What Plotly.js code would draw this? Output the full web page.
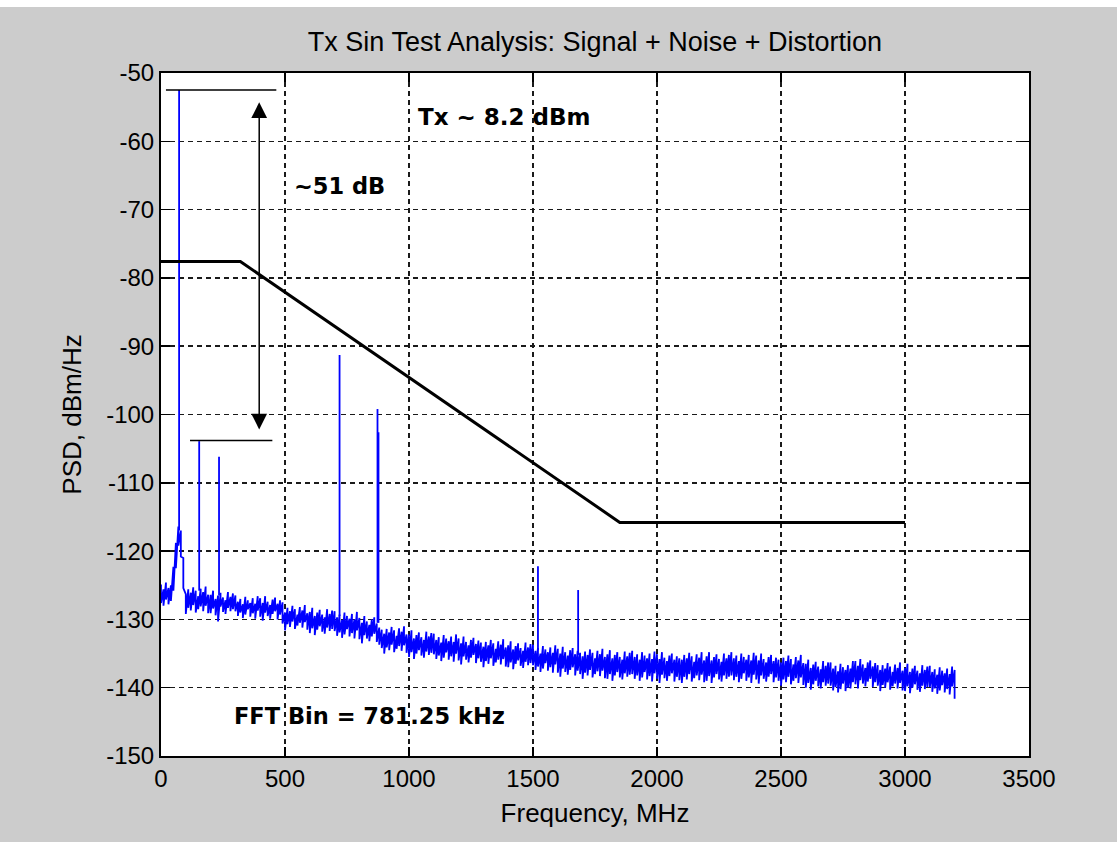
<!DOCTYPE html>
<html>
<head>
<meta charset="utf-8">
<script src="https://cdn.plot.ly/plotly-3.0.1.min.js"></script>
<style>
html, body { margin: 0; padding: 0; background: #ffffff; }
#psd { position: absolute; left: 0; top: 7px; width: 1117px; height: 835px; }
</style>
</head>
<body>
<div id="psd"></div>
<script>
// Noise floor envelope: highest and lowest PSD inside each 10 MHz bin (dBm/Hz)
const noiseStartMHz = 0;
const noiseStepMHz = 10;
const noiseMax = [
  -124.9,-125.6,-124.6,-125.4,-125.0,-122.3,-118.8,-116.4,-117.0,-121.0,
  -126.3,-125.6,-126.1,-125.3,-125.8,-126.6,-125.5,-126.0,-125.2,-126.4,
  -126.4,-125.8,-127.0,-126.5,-126.1,-126.8,-127.2,-126.0,-126.7,-126.2,
  -126.5,-127.4,-127.0,-127.8,-126.7,-127.2,-127.6,-126.9,-127.7,-126.6,
  -126.9,-127.6,-126.6,-127.4,-127.9,-127.1,-126.8,-127.7,-127.2,-127.5,
  -129.0,-128.3,-128.8,-128.0,-128.5,-129.3,-128.2,-128.7,-127.9,-129.1,
  -128.9,-128.3,-129.5,-129.0,-128.6,-129.3,-129.7,-128.5,-129.2,-128.7,
  -128.8,-129.7,-129.3,-130.1,-129.0,-129.5,-129.9,-129.2,-130.0,-128.9,
  -129.8,-130.5,-129.5,-130.3,-130.8,-130.0,-129.7,-130.6,-131.2,-131.5,
  -132.1,-131.4,-131.9,-131.1,-131.6,-132.4,-131.3,-131.8,-131.0,-132.2,
  -132.2,-131.6,-132.8,-132.3,-131.9,-132.6,-133.0,-131.8,-132.5,-132.0,
  -132.1,-133.0,-132.6,-133.4,-132.3,-132.8,-133.2,-132.5,-133.3,-132.2,
  -132.8,-133.5,-132.5,-133.3,-133.8,-133.0,-132.7,-133.6,-133.1,-133.4,
  -134.0,-133.3,-133.8,-133.0,-133.5,-134.3,-133.2,-133.7,-132.9,-134.1,
  -133.8,-133.2,-134.4,-133.9,-133.5,-134.2,-134.6,-133.4,-134.1,-133.6,
  -133.7,-134.6,-134.2,-135.0,-133.9,-134.4,-134.8,-134.1,-134.9,-133.8,
  -134.3,-135.0,-134.0,-134.8,-135.3,-134.5,-134.2,-135.1,-134.6,-134.9,
  -135.4,-134.7,-135.2,-134.4,-134.9,-135.7,-134.6,-135.1,-134.3,-135.5,
  -135.1,-134.5,-135.7,-135.2,-134.8,-135.5,-135.9,-134.7,-135.4,-134.9,
  -134.6,-135.5,-135.1,-135.9,-134.8,-135.3,-135.7,-135.0,-135.8,-134.7,
  -135.1,-135.8,-134.8,-135.6,-136.1,-135.3,-135.0,-135.9,-135.4,-135.7,
  -135.9,-135.2,-135.7,-134.9,-135.4,-136.2,-135.1,-135.6,-134.8,-136.0,
  -135.4,-134.8,-136.0,-135.5,-135.1,-135.8,-136.2,-135.0,-135.7,-135.2,
  -134.8,-135.7,-135.3,-136.1,-135.0,-135.5,-135.9,-135.2,-136.0,-134.9,
  -135.3,-136.0,-135.0,-135.8,-136.3,-135.5,-135.2,-136.1,-135.6,-135.9,
  -136.3,-135.6,-136.1,-135.3,-135.8,-136.6,-135.5,-136.0,-135.2,-136.4,
  -136.5,-135.9,-137.1,-136.6,-136.2,-136.9,-137.3,-136.1,-136.8,-136.3,
  -136.3,-137.2,-136.8,-137.6,-136.5,-137.0,-137.4,-136.7,-137.2,-136.1,
  -136.1,-136.8,-135.8,-136.6,-137.1,-136.3,-136.0,-136.9,-136.4,-136.7,
  -137.4,-136.7,-137.2,-136.4,-136.9,-137.7,-136.6,-137.1,-136.3,-137.5,
  -137.1,-136.5,-137.7,-137.2,-136.8,-137.5,-137.9,-136.7,-137.4,-136.9,
  -136.8,-137.7,-137.3,-138.1,-137.0,-137.5,-137.9,-137.2,-138.0,-136.9,
  -137.4
];
const noiseMin = [
  -127.6,-128.0,-127.1,-127.8,-127.3,-125.8,-122.5,-119.2,-120.8,-125.4,
  -129.2,-128.3,-128.7,-127.9,-129.0,-128.5,-128.1,-128.8,-128.0,-129.1,
  -129.1,-128.4,-129.4,-130.3,-128.1,-128.9,-129.2,-128.3,-128.8,-128.5,
  -128.8,-129.5,-129.0,-129.8,-129.3,-128.5,-129.6,-129.1,-129.9,-128.7,
  -129.6,-130.2,-129.0,-129.5,-129.9,-129.2,-128.8,-130.0,-129.3,-130.6,
  -131.6,-130.7,-131.1,-130.3,-131.4,-130.9,-130.5,-131.2,-130.4,-131.5,
  -132.0,-131.3,-132.3,-131.5,-131.0,-131.8,-132.1,-131.2,-131.7,-131.4,
  -131.7,-132.4,-131.9,-132.7,-132.2,-131.4,-132.5,-132.0,-132.8,-131.6,
  -132.9,-133.5,-132.3,-132.8,-133.2,-132.5,-132.1,-133.3,-133.7,-134.2,
  -135.0,-134.1,-134.5,-133.7,-134.8,-134.3,-133.9,-134.6,-133.8,-134.9,
  -135.5,-134.8,-135.8,-135.0,-134.5,-135.3,-135.6,-134.7,-135.2,-134.9,
  -135.1,-135.8,-135.3,-136.1,-135.6,-134.8,-135.9,-135.4,-136.2,-135.0,
  -136.0,-136.6,-135.4,-135.9,-136.3,-135.6,-135.2,-136.4,-135.7,-136.2,
  -137.0,-136.1,-136.5,-135.7,-136.8,-136.3,-135.9,-136.6,-135.8,-136.9,
  -137.0,-136.3,-137.3,-136.5,-136.0,-136.8,-137.1,-136.2,-136.7,-136.4,
  -136.7,-137.4,-136.9,-137.7,-137.2,-136.4,-137.5,-137.0,-137.8,-136.6,
  -137.8,-138.4,-137.2,-137.7,-138.1,-137.4,-137.0,-138.2,-137.5,-138.0,
  -138.7,-137.8,-138.2,-137.4,-138.5,-138.0,-137.6,-138.3,-137.5,-138.6,
  -138.7,-138.0,-139.0,-138.2,-137.7,-138.5,-138.8,-137.9,-138.4,-138.1,
  -138.0,-138.7,-138.2,-139.0,-138.5,-137.7,-138.8,-138.3,-139.1,-137.9,
  -138.7,-139.3,-138.1,-138.6,-139.0,-138.3,-137.9,-139.1,-138.4,-138.9,
  -139.3,-138.4,-138.8,-138.0,-139.1,-138.6,-138.2,-138.9,-138.1,-139.2,
  -139.0,-138.3,-139.3,-138.5,-138.0,-138.8,-139.1,-138.2,-138.7,-138.4,
  -138.2,-138.9,-138.4,-139.2,-138.7,-137.9,-139.0,-138.5,-139.3,-138.1,
  -138.8,-139.4,-138.2,-138.7,-139.1,-138.4,-138.0,-139.2,-138.5,-139.0,
  -139.7,-138.8,-139.2,-138.4,-139.5,-139.0,-138.6,-139.3,-138.5,-139.6,
  -140.0,-139.3,-140.3,-139.5,-139.0,-139.8,-140.1,-139.2,-139.7,-139.4,
  -139.7,-140.4,-139.9,-140.7,-140.2,-139.4,-140.5,-140.0,-140.1,-139.2,
  -139.5,-140.1,-138.9,-139.4,-139.8,-139.1,-138.7,-139.9,-139.2,-139.7,
  -140.5,-139.6,-140.0,-139.2,-140.3,-139.8,-139.4,-140.1,-139.3,-140.4,
  -140.5,-139.8,-140.8,-140.0,-139.5,-140.3,-140.6,-139.7,-140.2,-139.9,
  -139.9,-140.6,-140.1,-140.9,-140.4,-139.6,-140.7,-140.2,-141.0,-139.8,
  -141.6
];

// Carrier and discrete spurs: frequency, peak level, floor level under the tone
const toneFreq = [73, 154, 234, 720, 873, 877, 1520, 1682];
const tonePeak = [-52.5, -103.9, -106.2, -91.3, -99.2, -102.6, -122.2, -125.7];
const toneFloor = [-117.0, -125.8, -126.5, -129.5, -130.5, -130.5, -134.5, -135.2];

// Emission mask
const maskFreq = [0, 320, 1850, 3000];
const maskLevel = [-77.6, -77.6, -115.8, -115.8];

// Reference levels for the carrier-to-spur measurement
const carrierRefFreq = [20, 465];
const carrierRefLevel = -52.5;
const spurRefFreq = [117, 449];
const spurRefLevel = -103.8;
const arrowFreq = 396;
const arrowTopLevel = -54.3;
const arrowBottomLevel = -102.4;

const xTicks = [0, 500, 1000, 1500, 2000, 2500, 3000, 3500];
const yTicks = [-150, -140, -130, -120, -110, -100, -90, -80, -70, -60, -50];

const labels = {
  title: 'Tx Sin Test Analysis: Signal + Noise + Distortion',
  xTitle: 'Frequency, MHz',
  yTitle: 'PSD, dBm/Hz',
  power: 'Tx ~ 8.2 dBm',
  delta: '~51 dB',
  bin: 'FFT Bin = 781.25 kHz'
};

const BLUE = '#0000ff';
const INK = '#000000';
const sans = 'Liberation Sans, Arial, sans-serif';
const bold = 'DejaVu Sans, sans-serif';

// Trace through each bin's high and low so the dense FFT record reads as a band
const noiseX = [], noiseY = [];
noiseMax.forEach((hi, i) => {
  const f = noiseStartMHz + i * noiseStepMHz;
  noiseX.push(f, f);
  noiseY.push(hi, noiseMin[i]);
});

const toneX = [], toneY = [];
toneFreq.forEach((f, i) => {
  toneX.push(f, f, null);
  toneY.push(toneFloor[i], tonePeak[i], null);
});

const traces = [
  {
    type: 'scatter', mode: 'lines', x: noiseX, y: noiseY,
    line: { color: BLUE, width: 1.8 }, hoverinfo: 'skip'
  },
  {
    type: 'scatter', mode: 'lines', x: toneX, y: toneY,
    line: { color: BLUE, width: 1.8 }, hoverinfo: 'skip'
  },
  {
    type: 'scatter', mode: 'lines', x: maskFreq, y: maskLevel,
    line: { color: INK, width: 3 }, hoverinfo: 'skip'
  },
  {
    type: 'scatter', mode: 'lines',
    x: [carrierRefFreq[0], carrierRefFreq[1], null, spurRefFreq[0], spurRefFreq[1]],
    y: [carrierRefLevel, carrierRefLevel, null, spurRefLevel, spurRefLevel],
    line: { color: INK, width: 1.5 }, hoverinfo: 'skip'
  }
];

const axisCommon = {
  ticks: 'inside', ticklen: 9, tickwidth: 1.5, tickcolor: INK,
  showline: true, linecolor: INK, linewidth: 2, mirror: 'allticks',
  showgrid: true, gridcolor: '#1a1a1a', gridwidth: 1.5, griddash: '5px,4px',
  zeroline: false, fixedrange: true,
  tickfont: { family: sans, size: 24, color: INK }
};

const layout = {
  width: 1117, height: 835,
  margin: { l: 161, r: 88, t: 66, b: 86 },
  paper_bgcolor: '#cccccc',
  plot_bgcolor: '#ffffff',
  showlegend: false,
  hovermode: false,
  title: {
    text: labels.title,
    font: { family: sans, size: 27, color: INK },
    x: 0.5, xref: 'paper', xanchor: 'center',
    y: 1 - 35 / 835, yref: 'container', yanchor: 'middle'
  },
  xaxis: Object.assign({}, axisCommon, {
    range: [0, 3500], tickvals: xTicks, ticktext: xTicks.map(String),
    title: { text: labels.xTitle, font: { family: sans, size: 26, color: INK }, standoff: 13 }
  }),
  yaxis: Object.assign({}, axisCommon, {
    range: [-150, -50], tickvals: yTicks, ticktext: yTicks.map(String),
    title: { text: labels.yTitle, font: { family: sans, size: 26, color: INK }, standoff: 17 }
  }),
  annotations: [
    {
      x: arrowFreq, y: arrowTopLevel, ax: arrowFreq, ay: arrowBottomLevel,
      xref: 'x', yref: 'y', axref: 'x', ayref: 'y',
      text: '', showarrow: true, arrowside: 'end+start',
      arrowhead: 2, arrowsize: 2.1, arrowwidth: 1.5, arrowcolor: INK,
      standoff: 0, startstandoff: 0
    },
    {
      x: 1027, y: -56.4, xref: 'x', yref: 'y', xanchor: 'left', yanchor: 'middle',
      text: '<b>' + labels.power + '</b>', showarrow: false,
      font: { family: bold, size: 23, color: INK }
    },
    {
      x: 530, y: -66.5, xref: 'x', yref: 'y', xanchor: 'left', yanchor: 'middle',
      text: '<b>' + labels.delta + '</b>', showarrow: false,
      font: { family: bold, size: 22.5, color: INK }
    },
    {
      x: 285, y: -144.1, xref: 'x', yref: 'y', xanchor: 'left', yanchor: 'middle',
      text: '<b>' + labels.bin + '</b>', showarrow: false,
      font: { family: bold, size: 22.5, color: INK }
    }
  ]
};

Plotly.newPlot('psd', traces, layout, { staticPlot: true, displayModeBar: false });
</script>
</body>
</html>
